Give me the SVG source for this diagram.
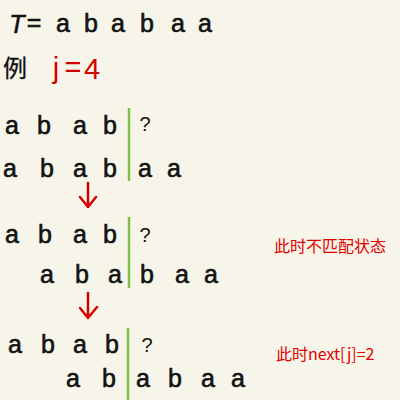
<svg xmlns="http://www.w3.org/2000/svg" width="400" height="400" viewBox="0 0 400 400">
<style>
.h{font-family:"Liberation Sans","DejaVu Sans",sans-serif;font-size:25px;fill:#111;stroke:#111;stroke-width:0.6;text-anchor:middle}
.q{font-family:"Liberation Sans","DejaVu Sans",sans-serif;font-size:20px;fill:#111;text-anchor:middle}
.r{fill:#d40000;stroke:none;font-size:29px}
.note{font-family:"Noto Sans CJK SC","Noto Sans",sans-serif;font-size:16px;fill:#e00000}
.g{stroke:#7cc142;stroke-width:2.5}
.arr{stroke:#d40000;stroke-width:2.5;fill:none;stroke-linecap:round;stroke-linejoin:round}
</style>
<rect width="400" height="400" fill="#f7f5e9"/>
<g id="header">
<text class="h" x="17" y="33" font-style="italic">T</text>
<text class="h" x="34" y="31">=</text>
<text class="h" x="63" y="32">a</text>
<text class="h" x="91" y="32">b</text>
<text class="h" x="118" y="32">a</text>
<text class="h" x="147" y="32">b</text>
<text class="h" x="178" y="32">a</text>
<text class="h" x="205" y="32">a</text>
</g>
<g id="example">
<text class="h" x="15" y="77" style="font-family:'Noto Sans CJK SC',sans-serif;font-size:24px;stroke-width:0.3">例</text>
<text class="h r" x="56" y="78">j</text>
<text class="h r" x="73" y="77">=</text>
<text class="h r" x="92" y="79">4</text>
</g>
<g id="step1">
<text class="h" x="12" y="134">a</text>
<text class="h" x="44" y="134">b</text>
<text class="h" x="80" y="134">a</text>
<text class="h" x="110" y="134">b</text>
<line class="g" x1="129" y1="108" x2="129" y2="181"/>
<text class="q" x="145" y="131">?</text>
<text class="h" x="10" y="177">a</text>
<text class="h" x="47" y="177">b</text>
<text class="h" x="80" y="177">a</text>
<text class="h" x="110" y="177">b</text>
<text class="h" x="145" y="177">a</text>
<text class="h" x="174" y="177">a</text>
</g>
<g id="step2">
<text class="h" x="12" y="243">a</text>
<text class="h" x="45" y="243">b</text>
<text class="h" x="80" y="243">a</text>
<text class="h" x="110" y="243">b</text>
<line class="g" x1="129" y1="217" x2="129" y2="288"/>
<text class="q" x="145" y="242">?</text>
<text class="h" x="47" y="283">a</text>
<text class="h" x="82" y="283">b</text>
<text class="h" x="115" y="283">a</text>
<text class="h" x="147" y="283">b</text>
<text class="h" x="182" y="283">a</text>
<text class="h" x="211" y="283">a</text>
<text class="note" x="274" y="252">此时不匹配状态</text>
</g>
<g id="step3">
<text class="h" x="15" y="353">a</text>
<text class="h" x="48" y="353">b</text>
<text class="h" x="80" y="353">a</text>
<text class="h" x="112" y="353">b</text>
<line class="g" x1="128" y1="328" x2="128" y2="400"/>
<text class="q" x="147" y="352">?</text>
<text class="h" x="73" y="387">a</text>
<text class="h" x="109" y="387">b</text>
<text class="h" x="143" y="387">a</text>
<text class="h" x="175" y="387">b</text>
<text class="h" x="208" y="387">a</text>
<text class="h" x="238" y="387">a</text>
<text class="note" x="276" y="360">此时next[j]=2</text>
</g>
<g id="connectors">
<path class="arr" d="M88 183 V207 M80 197 L88 207 L96 197"/>
<path class="arr" d="M88 293 V318 M80 308 L88 318 L97 307"/>
</g>
</svg>
